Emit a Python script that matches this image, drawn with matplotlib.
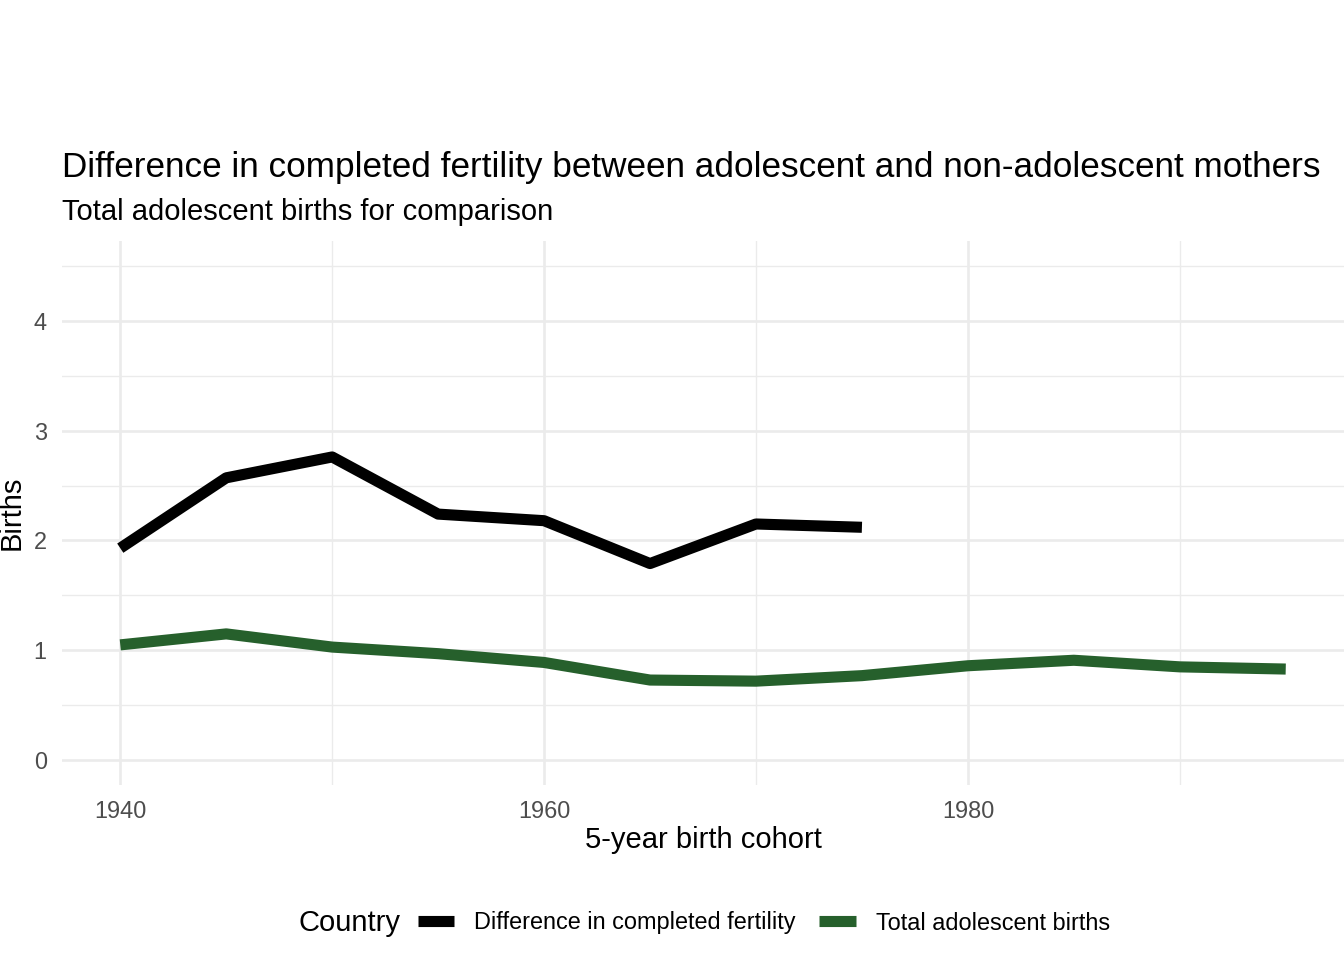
import matplotlib
matplotlib.use("Agg")
import matplotlib.pyplot as plt
from matplotlib.lines import Line2D

plt.rcParams['font.family'] = ['Liberation Sans', 'DejaVu Sans']

cohort_diff = [1940, 1945, 1950, 1955, 1960, 1965, 1970, 1975]
diff_fertility = [1.93, 2.57, 2.76, 2.24, 2.18, 1.79, 2.15, 2.12]
cohort_total = [1940, 1945, 1950, 1955, 1960, 1965, 1970, 1975, 1980, 1985, 1990, 1995]
total_adolescent = [1.05, 1.15, 1.03, 0.97, 0.89, 0.73, 0.72, 0.77, 0.86, 0.91, 0.85, 0.83]
series_names = ["Difference in completed fertility", "Total adolescent births"]
series_colors = ["#000000", "#26602C"]

W, H = 1344, 960
fig = plt.figure(figsize=(13.44, 9.6), dpi=100)
ax = fig.add_axes([62/W, 1-785/H, 1-62/W, (785-241)/H])

ax.set_xlim(1940 - 0.05*55, 1995 + 0.05*55)
ax.set_ylim(0 - 0.05*4.5, 4.5 + 0.05*4.5)
ax.set_xticks([1940, 1960, 1980])
ax.set_xticks([1950, 1970, 1990], minor=True)
ax.set_yticks([0, 1, 2, 3, 4])
ax.set_yticks([0.5, 1.5, 2.5, 3.5, 4.5], minor=True)
ax.grid(which='major', color='#EBEBEB', linewidth=1.9)
ax.grid(which='minor', color='#EBEBEB', linewidth=1.0)
ax.set_axisbelow(True)
for s in ax.spines.values():
    s.set_visible(False)
ax.tick_params(which='both', length=0)
ax.tick_params(axis='both', labelsize=16.9, labelcolor='#4D4D4D', pad=11)

ax.plot(cohort_diff, diff_fertility, color=series_colors[0], linewidth=8, solid_capstyle='butt', solid_joinstyle='round')
ax.plot(cohort_total, total_adolescent, color=series_colors[1], linewidth=8, solid_capstyle='butt', solid_joinstyle='round')

fig.text(703/W, 1-840/H, "5-year birth cohort", fontsize=21, ha='center', va='center')
fig.text(12/W, 1-513/H, "Births", fontsize=21, ha='center', va='center', rotation=90)

fig.text(62/W, 1-177/H, "Difference in completed fertility between adolescent and non-adolescent mothers",
         fontsize=25.3, ha='left', va='baseline')
fig.text(62/W, 1-220/H, "Total adolescent births for comparison",
         fontsize=21, ha='left', va='baseline')

handles = [Line2D([], [], color=c, linewidth=8, solid_capstyle='butt') for c in series_colors]
fig.text(298/W, 1-923/H, "Country", fontsize=21, ha='left', va='center')
fig.legend(handles, series_names, loc='center left', bbox_to_anchor=(418/W, 1-923/H),
           ncol=2, frameon=False, fontsize=16.9, handlelength=1.55, handletextpad=0.85,
           columnspacing=1.0, borderaxespad=0, borderpad=0)

fig.savefig("out.png", dpi=100)
